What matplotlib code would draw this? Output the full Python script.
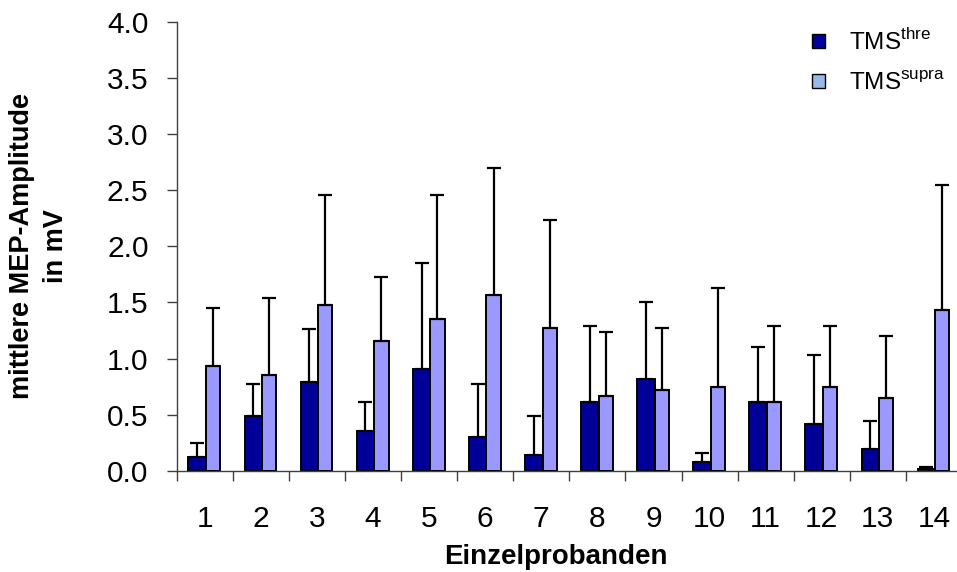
import numpy as np
import matplotlib.pyplot as plt
from matplotlib.patches import Patch

plt.rcParams['font.family'] = ['Liberation Sans', 'DejaVu Sans']
plt.rcParams['mathtext.fontset'] = 'custom'
plt.rcParams['mathtext.rm'] = 'Liberation Sans'

# values (mean + upper SD per subject)
probanden = [str(i) for i in range(1, 15)]
thre_mean = [0.125, 0.49, 0.79, 0.35, 0.91, 0.30, 0.14, 0.61, 0.82, 0.078, 0.61, 0.42, 0.195, 0.012]
thre_sd = [0.125, 0.28, 0.47, 0.26, 0.94, 0.47, 0.35, 0.68, 0.68, 0.08, 0.49, 0.61, 0.245, 0.023]
supra_mean = [0.93, 0.855, 1.48, 1.155, 1.35, 1.57, 1.27, 0.665, 0.72, 0.75, 0.61, 0.75, 0.65, 1.43]
supra_sd = [0.52, 0.685, 0.98, 0.57, 1.11, 1.13, 0.965, 0.575, 0.55, 0.875, 0.68, 0.54, 0.55, 1.115]

dark = '#000099'
light = '#9999ff'

fig = plt.figure(figsize=(9.57, 5.72), dpi=100)
ax = fig.add_axes([0.1846, 0.1771, 0.8206, 0.7844])

x = np.arange(len(probanden))
err_kw = dict(fmt='none', ecolor='black', elinewidth=1.6, capsize=5.2, capthick=1.6)

ax.bar(x - 0.135, thre_mean, width=0.31, color=dark, edgecolor='black', linewidth=1.4, zorder=2)
ax.errorbar(x - 0.135, thre_mean, yerr=[np.zeros(len(x)), thre_sd], zorder=2.5, **err_kw)
ax.bar(x + 0.15, supra_mean, width=0.255, color=light, edgecolor='black', linewidth=1.4, zorder=3)
ax.errorbar(x + 0.15, supra_mean, yerr=[np.zeros(len(x)), supra_sd], zorder=3.5, **err_kw)

ax.set_xlim(-0.5, 13.5)
ax.set_ylim(0, 4.0)
ax.set_yticks(np.arange(0, 4.01, 0.5))
ax.set_yticklabels([f'{v:.1f}' for v in np.arange(0, 4.01, 0.5)])
ax.set_xticks(x)
ax.set_xticklabels(probanden)
ax.set_xticks(np.arange(-0.5, 14, 1), minor=True)

ax.tick_params(axis='x', which='major', length=0, pad=24.5, labelsize=21.5)
ax.tick_params(axis='x', which='minor', length=7.2, width=1, color='#404040', direction='out')
ax.tick_params(axis='y', length=7.2, width=1, color='#404040', pad=13, labelsize=21.5)

for s in ['top', 'right']:
    ax.spines[s].set_visible(False)
for s in ['left', 'bottom']:
    ax.spines[s].set_color('#404040')
    ax.spines[s].set_linewidth(1)

ax.set_xlabel('Einzelprobanden', fontsize=20, fontweight='bold')
ax.xaxis.set_label_coords(0.483, -0.163)
ax.set_ylabel('mittlere MEP-Amplitude\nin mV', fontsize=19.5, fontweight='bold', linespacing=1.38)
ax.yaxis.set_label_coords(-0.137, 0.5)

handles = [Patch(facecolor=dark, edgecolor='black', linewidth=1),
           Patch(facecolor='#99b8ea', edgecolor='black', linewidth=1)]
fig.legend(handles, [r'TMS$^{\mathrm{thre}}$', r'TMS$^{\mathrm{supra}}$'],
           loc='upper left', bbox_to_anchor=(0.848, 0.95), frameon=False,
           borderpad=0, borderaxespad=0,
           fontsize=17.5, handlelength=0.55, handleheight=0.55, labelspacing=0.68, handletextpad=1.0)

fig.savefig('out.png', dpi=100)
